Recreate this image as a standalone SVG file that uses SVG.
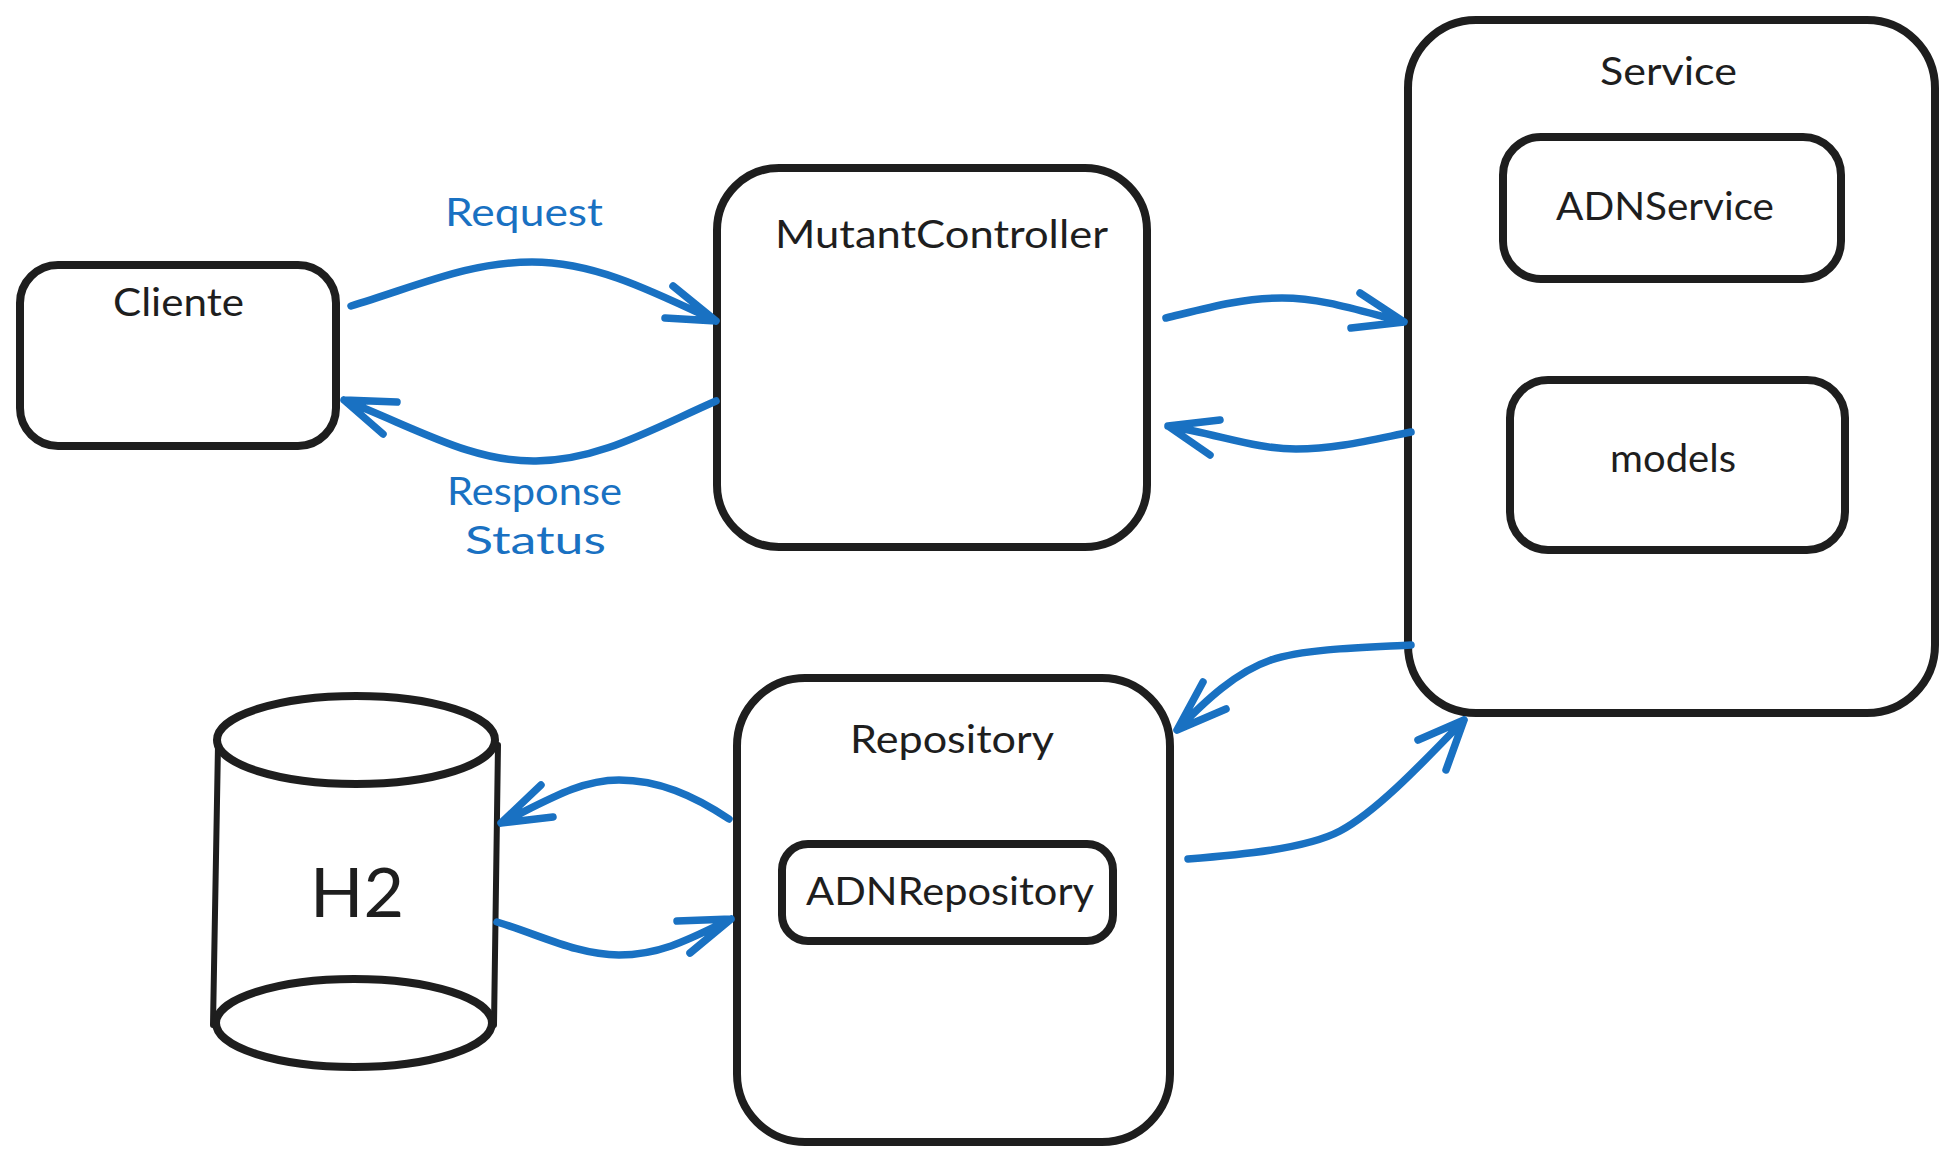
<svg xmlns="http://www.w3.org/2000/svg" width="1953" height="1160" viewBox="0 0 1953 1160">
<style>
.n{fill:#fff;stroke:#1e1e1e;stroke-width:8;stroke-linejoin:round}
.e{fill:none;stroke:#1e1e1e;stroke-width:8}
.s{fill:none;stroke:#1e1e1e;stroke-width:6;stroke-linecap:round}
.t{font-family:"Lato","Liberation Sans",sans-serif;font-size:38px;fill:#1e1e1e}
.c path{fill:none;stroke:#1971c2;stroke-width:7.5;stroke-linecap:round;stroke-linejoin:round}
</style>
<rect width="1953" height="1160" fill="#fff"/>
<g id="cliente"><rect class="n" x="20" y="265" width="316" height="181" rx="38"/><text class="t" x="113" y="316" textLength="131" lengthAdjust="spacingAndGlyphs">Cliente</text></g>
<g id="mutant-controller"><rect class="n" x="717" y="168" width="430" height="379" rx="62"/><text class="t" x="775" y="248" textLength="333" lengthAdjust="spacingAndGlyphs">MutantController</text></g>
<g id="service"><rect class="n" x="1408" y="20" width="527" height="693" rx="68"/><text class="t" x="1600" y="85" textLength="137" lengthAdjust="spacingAndGlyphs">Service</text></g>
<g id="adn-service"><rect class="n" x="1503" y="137" width="338" height="142" rx="38"/><text class="t" x="1556" y="220" textLength="218" lengthAdjust="spacingAndGlyphs">ADNService</text></g>
<g id="models"><rect class="n" x="1510" y="380" width="335" height="170" rx="38"/><text class="t" x="1610" y="472" textLength="126" lengthAdjust="spacingAndGlyphs">models</text></g>
<g id="repository"><rect class="n" x="737" y="678" width="433" height="464" rx="68"/><text class="t" x="850" y="753" textLength="204" lengthAdjust="spacingAndGlyphs">Repository</text></g>
<g id="adn-repository"><rect class="n" x="782" y="844" width="331" height="97" rx="26"/><text class="t" x="806" y="905" textLength="288" lengthAdjust="spacingAndGlyphs">ADNRepository</text></g>
<g id="h2">
<path class="s" d="M218 745L213 1025M498 745L494 1025"/>
<ellipse class="e" cx="356" cy="740" rx="139" ry="44"/>
<ellipse class="e" cx="354" cy="1023" rx="138" ry="44"/>
<text class="t" x="310" y="917" textLength="94" lengthAdjust="spacingAndGlyphs" style="font-size:68px">H2</text></g>
<g id="labels"><text class="t" style="fill:#1971c2" x="445" y="226" textLength="158" lengthAdjust="spacingAndGlyphs">Request</text>
<text class="t" style="fill:#1971c2" x="447" y="505" textLength="175" lengthAdjust="spacingAndGlyphs">Response</text>
<text class="t" style="fill:#1971c2" x="465" y="554" textLength="141" lengthAdjust="spacingAndGlyphs">Status</text></g>
<g id="connectors" class="c">
<path d="M351 306C420 285 470 262 532 262S650 290 716 321M673 286L716 321L665 318"/>
<path d="M716 401C650 430 600 460 536 461S420 430 344 400M397 402L344 400L383 434"/>
<path d="M1166 318C1207 308 1242 298 1282 298S1357 310 1404 322M1360 293L1404 322L1351 328"/>
<path d="M1411 432C1371 440 1336 449 1296 449S1221 435 1168 426M1220 420L1168 426L1210 455"/>
<path d="M1411 645C1376 647 1306 648 1271 660S1206 700 1177 730M1203 682L1177 730L1226 709"/>
<path d="M1188 859C1238 855 1306 849 1340 831S1416 770 1464 720M1418 740L1464 720L1446 770"/>
<path d="M729 819C693 795 658 780 619 780S548 800 501 823M541 785L501 823L553 817"/>
<path d="M497 922C540 935 578 955 619 955S688 940 731 919M677 921L731 919L690 953"/>
</g>
</svg>
